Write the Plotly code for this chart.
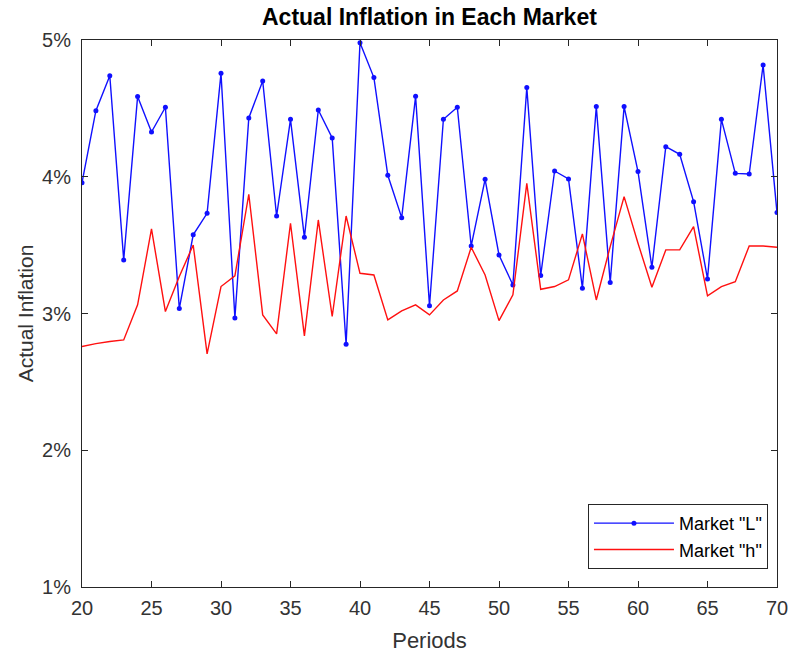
import plotly.graph_objects as go

periods = list(range(20, 71))

market_L = [3.957, 4.483, 4.739, 3.392, 4.586, 4.327, 4.508, 3.036, 3.575, 3.733,
            4.756, 2.968, 4.430, 4.700, 3.713, 4.420, 3.557, 4.488, 4.284, 2.775,
            4.980, 4.725, 4.011, 3.701, 4.588, 3.056, 4.420, 4.508, 3.494, 3.981,
            3.428, 3.209, 4.652, 3.278, 4.042, 3.984, 3.185, 4.513, 3.226, 4.513,
            4.038, 3.338, 4.220, 4.164, 3.818, 3.253, 4.420, 4.025, 4.020, 4.817,
            3.738]

market_h = [2.758, 2.780, 2.795, 2.807, 3.063, 3.618, 3.014, 3.270, 3.501, 2.705,
            3.197, 3.275, 3.872, 2.990, 2.851, 3.660, 2.836, 3.684, 2.978, 3.713,
            3.294, 3.282, 2.953, 3.019, 3.063, 2.990, 3.099, 3.165, 3.484, 3.282,
            2.948, 3.136, 3.952, 3.177, 3.197, 3.246, 3.582, 3.099, 3.489, 3.855,
            3.514, 3.192, 3.465, 3.465, 3.635, 3.129, 3.197, 3.233, 3.494, 3.494,
            3.484]

x_ticks = list(range(20, 71, 5))
y_ticks = [1, 2, 3, 4, 5]
y_tick_labels = ["1%", "2%", "3%", "4%", "5%"]

font_family = "Liberation Sans, Arial, sans-serif"
text_color = "#333333"

fig = go.Figure()
fig.add_trace(go.Scatter(
    x=periods, y=market_L, mode="lines+markers", name='Market "L"',
    line=dict(color="#1010ff", width=1.4),
    marker=dict(color="#1010ff", size=5, symbol="circle"),
))
fig.add_trace(go.Scatter(
    x=periods, y=market_h, mode="lines", name='Market "h"',
    line=dict(color="#ff1010", width=1.4),
))

axis_common = dict(
    showline=True, linecolor="#262626", linewidth=1, mirror="ticks",
    ticks="inside", ticklen=6, tickcolor="#262626", showgrid=False,
    zeroline=False, automargin=False,
    tickfont=dict(family=font_family, size=20, color=text_color),
)

fig.update_layout(
    width=791, height=660,
    margin=dict(l=82, r=14, t=40, b=73),
    paper_bgcolor="white", plot_bgcolor="white",
    title=dict(text="<b>Actual Inflation in Each Market</b>", x=0.5429, xanchor="center",
               y=0.974, yanchor="middle",
               font=dict(family=font_family, size=23, color="black")),
    xaxis=dict(range=[20, 70], tickvals=x_ticks, ticklabelstandoff=3,
               title=dict(text="Periods", font=dict(family=font_family, size=22, color=text_color),
                          standoff=14),
               **axis_common),
    yaxis=dict(range=[1, 5], tickvals=y_ticks, ticktext=y_tick_labels, ticklabelstandoff=6,
               title=dict(text="Actual Inflation", font=dict(family=font_family, size=21, color=text_color),
                          standoff=2),
               **axis_common),
    legend=dict(x=0.987, y=0.033, xanchor="right", yanchor="bottom",
                bordercolor="#262626", borderwidth=1, bgcolor="white",
                font=dict(family=font_family, size=18, color="black"),
                tracegroupgap=0, itemwidth=80),
    showlegend=True,
)

fig.write_html("out.html")
